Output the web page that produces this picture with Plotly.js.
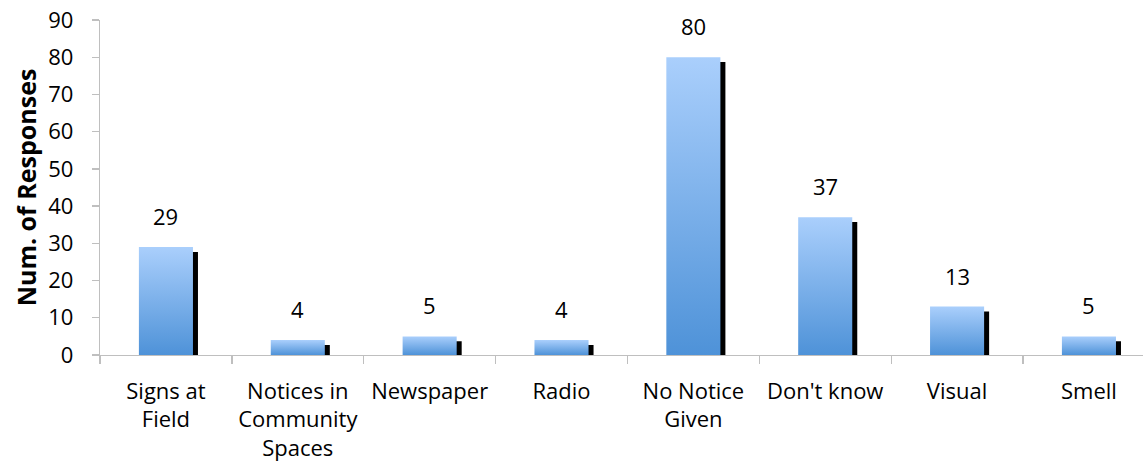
<!DOCTYPE html>
<html><head><meta charset="utf-8">
<script src="https://cdn.plot.ly/plotly-3.0.1.min.js"></script>
<style>html,body{margin:0;padding:0;background:#fff}#chart{width:1143px;height:467px}</style>
</head><body><div id="chart"></div>
<script>
const categories = ["Signs at<br>Field", "Notices in<br>Community<br>Spaces", "Newspaper", "Radio", "No Notice<br>Given", "Don't know", "Visual", "Smell"];
const responses = [29, 4, 5, 4, 80, 37, 13, 5];
const yTicks = [0, 10, 20, 30, 40, 50, 60, 70, 80, 90];

const FONT = "Open Sans, Noto Sans, sans-serif";
const BW = 0.41;

const shadow = {
  type: 'bar', x: categories, y: responses.map(v => v - 0.9), base: responses.map(() => -0.4),
  width: BW, offset: -BW / 2 + 0.038,
  marker: {color: '#000000', line: {width: 0}}, hoverinfo: 'skip', showlegend: false
};
const bars = {
  type: 'bar', x: categories, y: responses,
  width: BW, offset: -BW / 2,
  marker: {color: '#7FB2EC', line: {width: 0}}, showlegend: false
};

const annotations = categories.map((c, i) => ({
  x: c, y: responses[i], xref: 'x', yref: 'y', text: String(responses[i]),
  showarrow: false, yanchor: 'bottom', yshift: 14,
  font: {family: FONT, size: 22, color: '#000'}
}));

const layout = {
  width: 1143, height: 467,
  margin: {l: 100, r: 0, t: 20, b: 112},
  paper_bgcolor: '#fff', plot_bgcolor: '#fff',
  barmode: 'overlay',
  showlegend: false,
  font: {family: FONT, size: 22, color: '#000'},
  xaxis: {
    type: 'category', range: [-0.5, 7.41],
    showgrid: false, zeroline: false,
    showline: true, linecolor: '#BFBFBF', linewidth: 1.3,
    ticks: 'outside', tickson: 'boundaries', ticklen: 8, tickcolor: '#BFBFBF', tickwidth: 1.3,
    tickfont: {family: FONT, size: 22, color: '#000'},
    ticklabelstandoff: 16
  },
  yaxis: {
    range: [0, 90], tickvals: yTicks, ticktext: yTicks.map(String),
    showgrid: false, zeroline: false,
    showline: true, linecolor: '#BFBFBF', linewidth: 1.3,
    ticks: 'outside', ticklen: 7, tickcolor: '#BFBFBF', tickwidth: 1.3,
    tickfont: {family: FONT, size: 22, color: '#000'},
    ticklabelstandoff: 14,
    title: {text: '<b>Num. of Responses</b>', font: {family: FONT, size: 25, color: '#000'}, standoff: 4}
  },
  annotations: annotations
};

Plotly.newPlot('chart', [shadow, bars], layout, {displayModeBar: false, staticPlot: true}).then(gd => {
  const svg = gd.querySelector('svg.main-svg');
  const ns = 'http://www.w3.org/2000/svg';
  let defs = svg.querySelector('defs');
  if (!defs) { defs = document.createElementNS(ns, 'defs'); svg.insertBefore(defs, svg.firstChild); }
  const g = document.createElementNS(ns, 'linearGradient');
  g.setAttribute('id', 'barGrad'); g.setAttribute('x1', '0'); g.setAttribute('y1', '0');
  g.setAttribute('x2', '0'); g.setAttribute('y2', '1');
  [['0', '#AACFFC'], ['1', '#4E92D8']].forEach(([o, c]) => {
    const s = document.createElementNS(ns, 'stop');
    s.setAttribute('offset', o); s.setAttribute('stop-color', c); g.appendChild(s);
  });
  defs.appendChild(g);
  const traces = gd.querySelectorAll('g.trace.bars');
  const last = traces[traces.length - 1];
  last.querySelectorAll('path').forEach(p => { p.style.fill = 'url(#barGrad)'; });
});
</script></body></html>
